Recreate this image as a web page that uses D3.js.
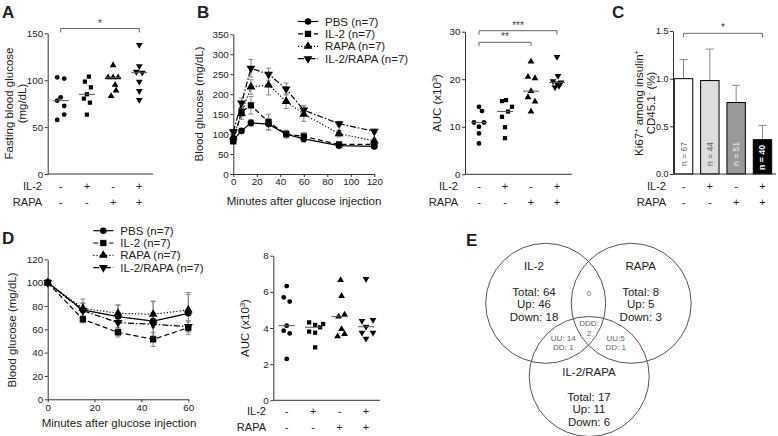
<!DOCTYPE html>
<html><head><meta charset="utf-8">
<script src="https://cdn.jsdelivr.net/npm/d3@7"></script>
<style>
body{margin:0;background:#fff}
text{font-family:"Liberation Sans",Arial,sans-serif;fill:#222}
</style></head>
<body><svg id="c" width="778" height="436"></svg>
<script>
// ---------- DATA ----------
const rowIL2 = ["-","+","-","+"];
const rowRAPA = ["-","-","+","+"];
const seriesNames = ["PBS (n=7)","IL-2 (n=7)","RAPA (n=7)","IL-2/RAPA (n=7)"];

// A: fasting blood glucose (mg/dL)
const fastPBS   = [103.1,101.7,81.8,78.2,72.5,63.3,57.6];
const fastIL2   = [103.8,98.5,92.4,85,80.4,76.1,63.3];
const fastRAPA  = [116,103,103,103,95,89,83];
const fastCombo = [137.6,115,109,108,98.5,88.5,79];

// B: GTT
const gttTimes   = [0,7,15,30,45,60,90,120];
const gttPBS     = [85,108,128,125,100,88,71,69];
const gttIL2     = [82,156,172,130,100,94,74,74];
const gttRAPA    = [93,152,218,223,182,150,101,83];
const gttCombo   = [106,178,265,250,213,160,126,107];
const gttPBSErr  = [6,5,8,14,8,8,5,5];
const gttIL2Err  = [6,12,22,20,10,10,6,6];
const gttRAPAErr = [6,15,18,25,18,18,8,5];
const gttComboErr= [6,12,22,15,15,12,6,5];

// B: AUC (x10^3)
const aucBPBS   = [14.2,13.3,10.9,10.9,10.0,8.6,6.5];
const aucBIL2   = [15.4,15.6,14.2,12.1,13.2,9.9,7.6];
const aucBRAPA  = [23.7,20.5,20.2,17.5,16.2,15.3,13.2];
const aucBCombo = [24.7,20.7,19.6,19.3,19.1,18.3,18.6];

// C: Ki67+ among insulin+ CD45.1- (%)
const ki67    = [1.0,0.98,0.75,0.36];
const ki67Err = [0.20,0.33,0.18,0.15];
const ki67N   = [67,44,51,40];

// D: ITT
const ittTimes   = [0,15,30,45,60];
const ittPBS     = [100,76.6,70.9,67.1,73.7];
const ittIL2     = [100,68.6,57.4,51.4,61.4];
const ittRAPA    = [100,78,73.7,72.9,76.6];
const ittCombo   = [100,76,65.7,64.3,62.3];
const ittPBSErr  = [0,6,10,17,16];
const ittIL2Err  = [0,3,4,6,6];
const ittRAPAErr = [0,8,7,11,15];
const ittComboErr= [0,6,6,10,4];

// D: AUC (x10^3)
const aucDPBS   = [6.32,5.7,5.46,4.13,3.85,3.7,2.29];
const aucDIL2   = [4.31,4.17,4.22,4.04,3.8,3.74,2.93];
const aucDRAPA  = [6.65,5.77,4.63,4.74,3.94,3.54,3.67];
const aucDCombo = [6.71,4.39,4.45,4.07,3.74,3.74,3.41];

// E: Venn
const vennLabels = ["IL-2","RAPA","IL-2/RAPA"];
const vennTotal  = [64,8,17];
const vennUp     = [46,5,11];
const vennDown   = [18,3,6];
const vennOverlapAB = ["0"];
const vennOverlapAC = ["UU: 14","DD: 1"];
const vennOverlapBC = ["UU:5","DD: 1"];
const vennOverlapABC= ["DDD:","2"];

// ---------- LAYOUT (horizontal jitter, px) ----------
const jitA = [[-3.5,3.5,0,-3.5,3.5,3.5,-3.5],[2,-2,4,0,-3,3,0],[0,-5,0,5,2,3,-2],[0,0,-3,3,0,0,0]];
const jitB = [[0,3,-5,5,0,0,0],[-3,1,7,-3,3,0,0],[0,-3,4,0,-3,4,0],[0,1,-4,4,0,-2,2]];
const jitD = [[0,-3,3,0,-3,3,0],[-4,2,10,7,-4,2,2],[1,2,-1,5,2,-2,5],[0,-4,7,0,-4,7,0]];

const svg = d3.select("#c");
const FONT = "\"Liberation Sans\",Arial,sans-serif";
const AX = "#333", TICK = "#444", ERR = "#888";

const shapes = [
  {t:d3.symbolCircle, rot:0},
  {t:d3.symbolSquare, rot:0},
  {t:d3.symbolTriangle, rot:0},
  {t:d3.symbolTriangle, rot:180}
];
function marker(g, i, x, y, size){
  g.append("path").attr("d", d3.symbol().type(shapes[i].t).size(size)())
   .attr("transform",`translate(${x},${y}) rotate(${shapes[i].rot})`)
   .attr("fill","#000");
}
function yAxis(scale, x, ticks, fmt, fs){
  const g = svg.append("g").attr("transform",`translate(${x},0)`)
    .call(d3.axisLeft(scale).tickValues(ticks).tickSize(3).tickSizeOuter(0).tickPadding(1.5).tickFormat(fmt||d3.format("d")));
  g.select(".domain").attr("stroke",AX);
  g.selectAll(".tick line").attr("stroke",AX);
  g.selectAll("text").attr("font-size",fs||9.8).attr("fill",TICK).style("font-family",FONT);
  return g;
}
function xLine(x1,x2,y){
  svg.append("line").attr("x1",x1).attr("x2",x2).attr("y1",y).attr("y2",y).attr("stroke",AX);
}
function label(x,y,t,opts={}){
  const e = svg.append("text").attr("x",x).attr("y",y).text(t)
    .attr("font-size",opts.size||10.5).attr("text-anchor",opts.anchor||"middle");
  if(opts.bold) e.attr("font-weight","bold");
  if(opts.fill) e.style("fill",opts.fill);
  if(opts.rot) e.attr("transform",`rotate(${opts.rot},${x},${y})`);
  return e;
}
function rows(xs, xLab, y1, y2){
  label(xLab, y1, "IL-2", {anchor:"end", size:11});
  label(xLab, y2, "RAPA", {anchor:"end", size:11});
  rowIL2.forEach((s,i)=>label(xs(i), y1, s, {size:11}));
  rowRAPA.forEach((s,i)=>label(xs(i), y2, s, {size:11}));
}
function bracket(x1,x2,y,star){
  svg.append("path").attr("d",`M${x1},${y+4}V${y}H${x2}V${y+4}`).attr("fill","none").attr("stroke","#666");
  label((x1+x2)/2, y-2, star, {size:10, fill:"#444"});
}
function scatter(groups, jit, xs, ys, size){
  groups.forEach((vals,gi)=>{
    const g = svg.append("g");
    vals.forEach((v,k)=>marker(g, gi, xs(gi)+jit[gi][k], ys(v), gi>=2?size+2:size));
    const m = d3.median(vals);
    svg.append("line").attr("x1",xs(gi)-8).attr("x2",xs(gi)+8)
      .attr("y1",ys(m)).attr("y2",ys(m)).attr("stroke","#555").attr("stroke-width",1);
  });
}
const dashes = [null,"5,3","1.2,2","6,2,1.5,2"];
function lineChart(times, series, errs, xs, ys){
  series.forEach((vals,si)=>{
    errs[si].forEach((e,k)=>{
      if(e<=0) return;
      const x = xs(times[k]);
      svg.append("path").attr("d",`M${x},${ys(vals[k]-e)}V${ys(vals[k]+e)}M${x-2.5},${ys(vals[k]-e)}H${x+2.5}M${x-2.5},${ys(vals[k]+e)}H${x+2.5}`)
        .attr("stroke",ERR).attr("fill","none").attr("stroke-width",1);
    });
  });
  series.forEach((vals,si)=>{
    const line = d3.line().x((d,k)=>xs(times[k])).y(d=>ys(d));
    svg.append("path").attr("d",line(vals)).attr("fill","none").attr("stroke","#000")
      .attr("stroke-width",1.2).attr("stroke-dasharray",dashes[si]);
    const g = svg.append("g");
    vals.forEach((v,k)=>marker(g, si, xs(times[k]), ys(v), si===1?40:34));
  });
}
function legend(x, y0, dy){
  seriesNames.forEach((n,i)=>{
    const y = y0+i*dy;
    svg.append("line").attr("x1",x-10).attr("x2",x+10).attr("y1",y).attr("y2",y)
      .attr("stroke","#000").attr("stroke-width",1.2).attr("stroke-dasharray",dashes[i]);
    marker(svg, i, x, y, i===1?40:34);
    label(x+17, y+4, n, {anchor:"start", size:11.5});
  });
}

// ---------- PANEL A ----------
label(2,18,"A",{anchor:"start",size:17,bold:true});
const xA = d3.scalePoint().domain([0,1,2,3]).range([60.7,139.3]);
const yA = d3.scaleLinear([0,150],[174,33.3]);
yAxis(yA, 47.7, [0,50,100,150]);
xLine(47.7,153,174);
scatter([fastPBS,fastIL2,fastRAPA,fastCombo], jitA, xA, yA, 18);
bracket(xA(0), xA(3), 28.5, "*");
label(13,103.5,"Fasting blood glucose",{rot:-90,size:11.5});
label(25.5,103.5,"(mg/dL)",{rot:-90,size:11.5});
rows(xA, 42, 189.5, 205.5);

// ---------- PANEL B ----------
label(197,18,"B",{anchor:"start",size:17,bold:true});
const xB = d3.scaleLinear([0,120],[233.3,374.3]);
const yB = d3.scaleLinear([0,350],[174,34.3]);
yAxis(yB, 233.3, d3.range(0,351,50));
{
  const g = svg.append("g").attr("transform","translate(0,174)")
    .call(d3.axisBottom(xB).tickValues(d3.range(0,121,20)).tickSize(3).tickSizeOuter(0).tickPadding(1.5));
  g.select(".domain").attr("stroke",AX);
  g.selectAll(".tick line").attr("stroke",AX);
  g.selectAll("text").attr("font-size",9.8).attr("fill",TICK).style("font-family",FONT);
}
lineChart(gttTimes,[gttPBS,gttIL2,gttRAPA,gttCombo],[gttPBSErr,gttIL2Err,gttRAPAErr,gttComboErr],xB,yB);
legend(308, 21.5, 12.4);
label(203,104,"Blood glucose (mg/dL)",{rot:-90,size:11.5});
label(304,205,"Minutes after glucose injection",{size:11.5});

// B AUC
const xBa = d3.scalePoint().domain([0,1,2,3]).range([479,557]);
const yBa = d3.scaleLinear([0,30],[174.3,31.7]);
yAxis(yBa, 465, [0,10,20,30]);
xLine(465,572,174.3);
scatter([aucBPBS,aucBIL2,aucBRAPA,aucBCombo], jitB, xBa, yBa, 18);
bracket(xBa(0), xBa(2), 42.3, "**");
bracket(xBa(0), xBa(3), 30.7, "***");
{
  const t = svg.append("text").attr("transform","translate(441,103) rotate(-90)")
    .attr("text-anchor","middle").attr("font-size",11.5);
  t.append("tspan").text("AUC (x10");
  t.append("tspan").text("3").attr("font-size",7.5).attr("dy",-4);
  t.append("tspan").text(")").attr("dy",4);
}
rows(xBa, 458, 189.5, 205.5);

// ---------- PANEL C ----------
label(612,18,"C",{anchor:"start",size:17,bold:true});
const xC = d3.scaleBand().domain([0,1,2,3]).range([673,773]).paddingInner(0.3).paddingOuter(0.05);
const yC = d3.scaleLinear([0,1.5],[174,31]);
yAxis(yC, 673, [0,0.5,1.0,1.5], d3.format(".1f"), 9);
const barFill = ["#fff","#ddd","#999","#000"];
ki67.forEach((v,i)=>{
  const cx = xC(i)+xC.bandwidth()/2;
  svg.append("path").attr("d",`M${cx},${yC(v)}V${yC(v+ki67Err[i])}M${cx-4},${yC(v+ki67Err[i])}H${cx+4}`)
    .attr("stroke",ERR).attr("fill","none");
  svg.append("rect").attr("x",xC(i)).attr("y",yC(v)).attr("width",xC.bandwidth())
    .attr("height",yC(0)-yC(v)).attr("fill",barFill[i]).attr("stroke","#000").attr("stroke-width",1);
  const t = label(cx+3, i===3?157.5:154, "n = "+ki67N[i], {size:8.5, rot:-90, fill: i===3?"#fff":(i===2?"#eee":"#666")});
  if(i===3) t.attr("font-weight","bold").attr("font-size",8.8);
});
xLine(673,776,174);
bracket(xC(0)+xC.bandwidth()/2, xC(3)+xC.bandwidth()/2, 33.3, "*");
{
  const t1 = svg.append("text").attr("transform","translate(643,103) rotate(-90)")
    .attr("text-anchor","middle").attr("font-size",11.5);
  t1.append("tspan").text("Ki67");
  t1.append("tspan").text("+").attr("font-size",7.5).attr("dy",-4);
  t1.append("tspan").text(" among insulin").attr("dy",4);
  t1.append("tspan").text("+").attr("font-size",7.5).attr("dy",-4);
  const t2 = svg.append("text").attr("transform","translate(655,103) rotate(-90)")
    .attr("text-anchor","middle").attr("font-size",11.5);
  t2.append("tspan").text("CD45.1");
  t2.append("tspan").text("-").attr("font-size",7.5).attr("dy",-4);
  t2.append("tspan").text(" (%)").attr("dy",4);
}
rows(i=>xC(i)+xC.bandwidth()/2, 666, 189.5, 205.5);

// ---------- PANEL D ----------
label(2,244,"D",{anchor:"start",size:17,bold:true});
const xD = d3.scaleLinear([0,60],[47.7,188.3]);
const yD = d3.scaleLinear([0,120],[399.3,259.3]);
yAxis(yD, 47.7, d3.range(0,121,20));
{
  const g = svg.append("g").attr("transform","translate(0,399.3)")
    .call(d3.axisBottom(xD).tickValues([0,20,40,60]).tickSize(3).tickSizeOuter(0).tickPadding(1.5));
  g.select(".domain").attr("stroke",AX);
  g.selectAll(".tick line").attr("stroke",AX);
  g.selectAll("text").attr("font-size",9.8).attr("fill",TICK).style("font-family",FONT);
}
lineChart(ittTimes,[ittPBS,ittIL2,ittRAPA,ittCombo],[ittPBSErr,ittIL2Err,ittRAPAErr,ittComboErr],xD,yD);
legend(103.3, 230.7, 12.3);
label(16,330,"Blood glucose (mg/dL)",{rot:-90,size:11.5});
label(119,427,"Minutes after glucose injection",{size:11.5});

// D AUC
const xDa = d3.scalePoint().domain([0,1,2,3]).range([286.7,366]);
const yDa = d3.scaleLinear([0,8],[400.3,255.7]);
yAxis(yDa, 273.3, [0,2,4,6,8]);
xLine(273.3,380,400.3);
scatter([aucDPBS,aucDIL2,aucDRAPA,aucDCombo], jitD, xDa, yDa, 18);
{
  const t = svg.append("text").attr("transform","translate(249,328) rotate(-90)")
    .attr("text-anchor","middle").attr("font-size",11.5);
  t.append("tspan").text("AUC (x10");
  t.append("tspan").text("3").attr("font-size",7.5).attr("dy",-4);
  t.append("tspan").text(")").attr("dy",4);
}
rows(xDa, 266, 414.5, 430.5);

// ---------- PANEL E ----------
label(466,246,"E",{anchor:"start",size:17,bold:true});
const vc = [[545.7,303.3],[631.2,303.3],[589.2,376.5]];
const vr = 60;
vc.forEach(c=>svg.append("circle").attr("cx",c[0]).attr("cy",c[1]).attr("r",vr)
  .attr("fill","none").attr("stroke","#555").attr("stroke-width",1));
const vText = [[534,266],[640.7,266],[589,372]];
vennLabels.forEach((l,i)=>{
  const [x,y] = vText[i];
  label(x,y+4,l,{size:11.5});
  const base = i===2? y+29 : y+30;
  label(x,base,"Total: "+vennTotal[i],{size:11.5});
  label(x,base+12.3,"Up: "+vennUp[i],{size:11.5});
  label(x,base+24.6,"Down: "+vennDown[i],{size:11.5});
});
label(589,295.5,vennOverlapAB[0],{size:8,fill:"#666"});
vennOverlapABC.forEach((t,k)=>label(589,325.5+k*10.5,t,{size:8,fill:"#666"}));
vennOverlapAC.forEach((t,k)=>label(563.3,340.5+k*9.5,t,{size:8,fill:"#666"}));
vennOverlapBC.forEach((t,k)=>label(615.7,340.5+k*9.5,t,{size:8,fill:"#666"}));
</script></body></html>
